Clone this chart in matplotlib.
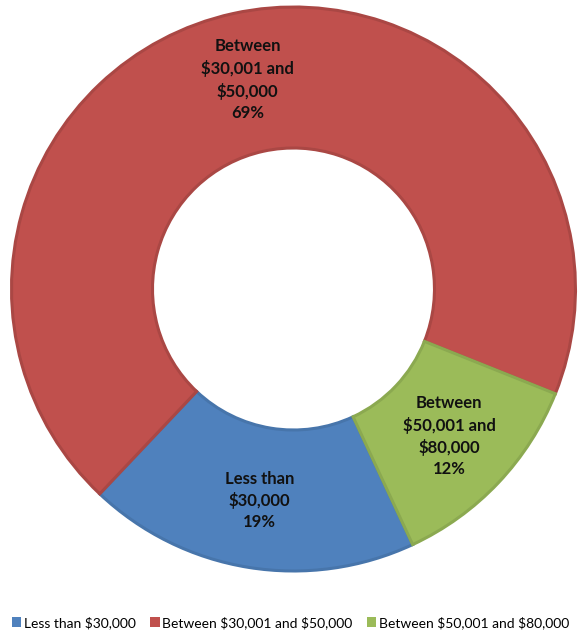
import matplotlib

matplotlib.use("Agg")
import matplotlib.pyplot as plt
import numpy as np
from matplotlib.patches import Patch

categories = ["Less than $30,000", "Between $30,001 and $50,000", "Between $50,001 and $80,000"]
slice_labels = ["Less than\n$30,000", "Between\n$30,001 and\n$50,000", "Between\n$50,001 and\n$80,000"]
shares = [19, 69, 12]

fills = ["#4F81BD", "#C0504D", "#9BBB59"]
edges = ["#4775AB", "#AA4744", "#8BA950"]

plt.rcParams["font.family"] = ["Lato", "DejaVu Sans"]
plt.rcParams["text.parse_math"] = False  # dollar signs are literal

fig = plt.figure(figsize=(5.81, 6.36), dpi=100)
ax = fig.add_axes([0.0198, 0.1022, 0.9707, 0.8868])

wedges, _ = ax.pie(
    shares,
    startangle=-65,
    counterclock=False,
    radius=1.0,
    colors=fills,
    wedgeprops=dict(width=0.5, linewidth=2.2),
)
for w, ec in zip(wedges, edges):
    w.set_edgecolor(ec)

# labels sit halfway across the ring, at each wedge's mid-angle
for w, lab, pct in zip(wedges, slice_labels, shares):
    mid = np.deg2rad((w.theta1 + w.theta2) / 2)
    r = 0.76
    ax.text(r * np.cos(mid), r * np.sin(mid), f"{lab}\n{pct}%",
            ha="center", va="center", fontsize=12, fontweight="bold",
            color="#111111", linespacing=1.4)

ax.set_xlim(-1, 1)
ax.set_ylim(-1, 1)
ax.set_aspect("equal")
ax.axis("off")

handles = [Patch(facecolor=c, edgecolor="none") for c in fills]
fig.legend(handles, categories, loc="lower center", bbox_to_anchor=(0.5, 0.0),
           ncol=3, frameon=False, fontsize=10, handlelength=0.7, handleheight=0.7,
           handletextpad=0.2, columnspacing=1.0, borderaxespad=0.1)

fig.savefig("out.png", dpi=100, facecolor="white")
